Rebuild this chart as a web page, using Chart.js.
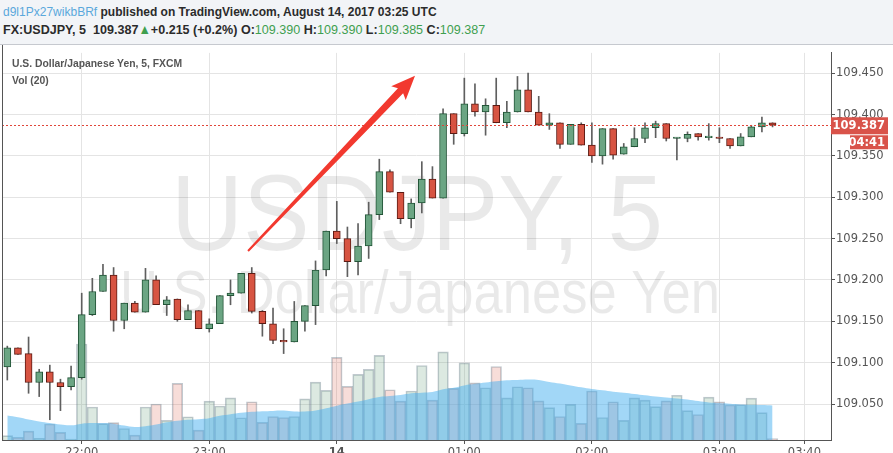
<!DOCTYPE html>
<html>
<head>
<meta charset="utf-8">
<script src="https://cdn.jsdelivr.net/npm/chart.js@4.4.1/dist/chart.umd.min.js"></script>
<style>
  html, body { margin: 0; padding: 0; }
  body { width: 893px; height: 453px; overflow: hidden; position: relative; background: #fff; font-family: "Liberation Sans", Arial, sans-serif; }
  #hdr { position: absolute; left: 0; top: 0; width: 893px; height: 44px; background: #f2f4f7; border-bottom: 1px solid #c6c9cf; }
  .ln { position: absolute; left: 3px; white-space: nowrap; font-weight: bold; font-size: 13.5px; color: #2b2b2b; transform-origin: 0 0; }
  .g { color: #3f9f4f; font-weight: normal; }
  #legend { position: absolute; left: 12px; top: 55px; font-size: 11.5px; font-weight: bold; color: #555; line-height: 17px; transform: scaleX(0.9); transform-origin: 0 0; white-space: nowrap; }
  #frame { position: absolute; left: 2px; top: 45px; width: 1px; height: 395px; background: #555; }
  #wrap { position: absolute; left: 0; top: 45px; width: 893px; height: 418px; }
</style>
</head>
<body>
<div id="hdr">
  <div class="ln" id="l1" style="top:4px"><span style="color:#5aa8dc;font-weight:normal">d9l1Px27wikbBRf</span> published on TradingView.com, August 14, 2017 03:25 UTC</div>
  <div class="ln" id="l2" style="top:22px">FX:USDJPY, 5&nbsp; <span id="last"></span><span class="g">▲</span><span id="chg"></span> O:<span class="g" id="vo"></span> H:<span class="g" id="vh"></span> L:<span class="g" id="vl"></span> C:<span class="g" id="vc"></span></div>
</div>
<div id="wrap"><canvas id="chart" width="893" height="418"></canvas></div>
<div id="frame"></div>
<div id="legend">U.S. Dollar/Japanese Yen, 5, FXCM<br>Vol (20)</div>
<script>
// 5-minute bars, 21:25 .. 03:25 (axis runs on to 03:50)
const times = ('21:25 21:30 21:35 21:40 21:45 21:50 21:55 ' +
  '22:00 22:05 22:10 22:15 22:20 22:25 22:30 22:35 22:40 22:45 22:50 22:55 ' +
  '23:00 23:05 23:10 23:15 23:20 23:25 23:30 23:35 23:40 23:45 23:50 23:55 ' +
  '00:00 00:05 00:10 00:15 00:20 00:25 00:30 00:35 00:40 00:45 00:50 00:55 ' +
  '01:00 01:05 01:10 01:15 01:20 01:25 01:30 01:35 01:40 01:45 01:50 01:55 ' +
  '02:00 02:05 02:10 02:15 02:20 02:25 02:30 02:35 02:40 02:45 02:50 02:55 ' +
  '03:00 03:05 03:10 03:15 03:20 03:25 03:30 03:35 03:40 03:45 03:50').split(' ');

const opens = [109.095, 109.118, 109.111, 109.076, 109.089, 109.076, 109.071, 109.082, 109.158, 109.186,
  109.206, 109.151, 109.172, 109.161, 109.200, 109.170, 109.177, 109.152, 109.163, 109.141,
  109.147, 109.181, 109.184, 109.208, 109.162, 109.147, 109.127, 109.125, 109.150, 109.169,
  109.212, 109.259, 109.250, 109.222, 109.241, 109.279, 109.331, 109.306, 109.274, 109.293,
  109.322, 109.299, 109.401, 109.377, 109.413, 109.403, 109.411, 109.390, 109.403, 109.430,
  109.403, 109.387, 109.390, 109.364, 109.388, 109.363, 109.350, 109.383, 109.352, 109.361,
  109.371, 109.384, 109.389, 109.371, 109.371, 109.377, 109.372, 109.372, 109.371, 109.362,
  109.373, 109.385, 109.390];
const highs = [109.120, 109.118, 109.131, 109.092, 109.097, 109.080, 109.096, 109.184, 109.202, 109.219,
  109.215, 109.172, 109.174, 109.214, 109.205, 109.180, 109.177, 109.170, 109.163, 109.153,
  109.181, 109.200, 109.208, 109.215, 109.163, 109.166, 109.141, 109.174, 109.169, 109.223,
  109.259, 109.295, 109.264, 109.268, 109.294, 109.346, 109.333, 109.306, 109.298, 109.343,
  109.337, 109.407, 109.401, 109.444, 109.437, 109.419, 109.444, 109.416, 109.446, 109.450,
  109.422, 109.401, 109.390, 109.388, 109.390, 109.390, 109.383, 109.383, 109.365, 109.384,
  109.390, 109.392, 109.389, 109.372, 109.379, 109.377, 109.389, 109.384, 109.371, 109.377,
  109.387, 109.397, 109.390];
const lows = [109.079, 109.110, 109.063, 109.059, 109.031, 109.042, 109.067, 109.080, 109.157, 109.186,
  109.138, 109.141, 109.161, 109.161, 109.170, 109.157, 109.150, 109.152, 109.141, 109.137,
  109.147, 109.170, 109.184, 109.160, 109.132, 109.123, 109.111, 109.125, 109.138, 109.146,
  109.205, 109.244, 109.204, 109.206, 109.226, 109.273, 109.306, 109.268, 109.263, 109.281,
  109.299, 109.299, 109.364, 109.374, 109.398, 109.375, 109.390, 109.384, 109.403, 109.403,
  109.387, 109.382, 109.359, 109.364, 109.363, 109.342, 109.340, 109.346, 109.352, 109.361,
  109.366, 109.372, 109.368, 109.345, 109.367, 109.369, 109.369, 109.366, 109.359, 109.362,
  109.373, 109.379, 109.385];
const closes = [109.118, 109.110, 109.076, 109.089, 109.076, 109.071, 109.082, 109.158, 109.186, 109.206,
  109.151, 109.172, 109.161, 109.200, 109.170, 109.176, 109.152, 109.163, 109.141, 109.147,
  109.181, 109.184, 109.208, 109.162, 109.147, 109.127, 109.125, 109.150, 109.169, 109.212,
  109.259, 109.250, 109.222, 109.241, 109.279, 109.331, 109.306, 109.274, 109.293, 109.322,
  109.299, 109.401, 109.377, 109.413, 109.403, 109.411, 109.390, 109.403, 109.430, 109.403,
  109.387, 109.390, 109.364, 109.388, 109.363, 109.350, 109.383, 109.351, 109.361, 109.371,
  109.384, 109.389, 109.371, 109.371, 109.376, 109.373, 109.372, 109.371, 109.362, 109.373,
  109.385, 109.390, 109.387];

const volumes = [44, 27, 90, 17, 163, 77, 10, 980, 337, 167,
  177, 117, 50, 337, 367, 200, 577, 237, 100, 397,
  347, 430, 227, 390, 180, 240, 230, 240, 420, 590,
  507, 843, 547, 670, 720, 863, 513, 397, 500, 760,
  407, 900, 527, 787, 583, 533, 750, 430, 543, 533,
  400, 330, 240, 363, 170, 500, 230, 390, 200, 430,
  407, 340, 400, 457, 300, 260, 437, 390, 357, 360,
  427, 280, 15];
// Vol (20) moving average
const volumeMA = [250, 233, 210, 190, 173, 157, 150, 167, 173, 173,
  167, 147, 133, 140, 157, 180, 197, 207, 213, 223,
  247, 263, 277, 287, 293, 297, 300, 290, 290, 300,
  323, 350, 373, 393, 417, 440, 450, 460, 477, 483,
  490, 517, 533, 557, 573, 587, 600, 610, 613, 617,
  613, 593, 577, 557, 537, 520, 507, 493, 483, 470,
  457, 443, 433, 423, 413, 397, 383, 377, 370, 363,
  360, 357, 353];

const priceTicks = [109.05, 109.10, 109.15, 109.20, 109.25, 109.30, 109.35, 109.40, 109.45];
const tickTimes = ['22:00', '23:00', '00:00', '01:00', '02:00', '03:00', '03:40'];
const tickNames = ['22:00', '23:00', '14', '01:00', '02:00', '03:00', '03:40'];
const watermark = ['USDJPY, 5', 'U.S. Dollar/Japanese Yen'];
const countdown = '04:41';
const dayChange = '+0.215 (+0.2%)';
// hand-drawn arrow, in (bar index, price)
const arrowFrom = [22.65, 109.235];
const arrowTo = [38.36, 109.447];

const UP = '#6ba583', DOWN = '#d75442', UP_EDGE = '#225437', DOWN_EDGE = '#5b1a13';
const n = closes.length;
const last = n - 1;
const isUp = i => closes[i] >= opens[i];

document.getElementById('last').textContent = closes[last].toFixed(3);
document.getElementById('chg').textContent = dayChange;
document.getElementById('vo').textContent = opens[last].toFixed(3);
document.getElementById('vh').textContent = highs[last].toFixed(3);
document.getElementById('vl').textContent = lows[last].toFixed(3);
document.getElementById('vc').textContent = closes[last].toFixed(3);
document.getElementById('l1').style.transform = 'scaleX(0.89)';
document.getElementById('l2').style.transform = 'scaleX(0.93)';

function stretchedText(ctx, text, font, cx, baseY, width) {
    ctx.font = font;
    const w = ctx.measureText(text).width;
    ctx.save();
    ctx.translate(cx, baseY);
    ctx.scale(width / w, 1);
    ctx.textAlign = 'center';
    ctx.textBaseline = 'alphabetic';
    ctx.fillText(text, 0, 0);
    ctx.restore();
}

const overlay = {
    id: 'overlay',
    beforeDatasetsDraw(chart) {
        const ctx = chart.ctx, a = chart.chartArea;
        ctx.save();
        ctx.beginPath();
        ctx.rect(a.left, a.top, a.width, a.height);
        ctx.clip();
        ctx.fillStyle = 'rgba(0,0,0,0.085)';
        stretchedText(ctx, watermark[0], '108px "Liberation Sans"', 417, 205, 492);
        stretchedText(ctx, watermark[1], '62px "Liberation Sans"', 420, 268, 600);
        ctx.restore();
    },
    afterDatasetsDraw(chart) {
        const ctx = chart.ctx, a = chart.chartArea;
        const xs = chart.scales.x, ys = chart.scales.y;
        // last price line
        const py = Math.round(ys.getPixelForValue(closes[last])) + 0.5;
        ctx.save();
        ctx.strokeStyle = '#e0463a';
        ctx.lineWidth = 1;
        ctx.setLineDash([2, 2]);
        ctx.beginPath();
        ctx.moveTo(a.left, py);
        ctx.lineTo(a.right, py);
        ctx.stroke();
        ctx.restore();

        // arrow
        const x0 = xs.getPixelForValue(arrowFrom[0]), y0 = ys.getPixelForValue(arrowFrom[1]);
        const x1 = xs.getPixelForValue(arrowTo[0]), y1 = ys.getPixelForValue(arrowTo[1]);
        const ang = Math.atan2(y1 - y0, x1 - x0);
        const len = Math.hypot(x1 - x0, y1 - y0);
        const headL = 24, headW = 10;
        ctx.save();
        ctx.translate(x0, y0);
        ctx.rotate(ang);
        ctx.fillStyle = '#f2392f';
        ctx.beginPath();
        ctx.moveTo(0, -1);
        ctx.lineTo(len - headL + 3, -3.6);
        ctx.lineTo(len - headL, -headW);
        ctx.lineTo(len, 0);
        ctx.lineTo(len - headL, headW);
        ctx.lineTo(len - headL + 3, 3.6);
        ctx.lineTo(0, 1);
        ctx.closePath();
        ctx.fill();
        ctx.restore();
    },
    afterDraw(chart) {
        const ctx = chart.ctx, a = chart.chartArea, ys = chart.scales.y;
        const py = ys.getPixelForValue(closes[last]);
        ctx.save();
        ctx.fillStyle = '#d9534a';
        ctx.fillRect(a.right, py - 8, 57, 17);
        ctx.fillRect(a.right + 19, py + 10, 38, 14);
        ctx.fillStyle = '#fff';
        ctx.font = 'bold 11.5px "DejaVu Sans"';
        ctx.textAlign = 'right';
        ctx.textBaseline = 'middle';
        ctx.fillText(closes[last].toFixed(3), a.right + 54, py + 0.5);
        ctx.fillText(countdown, a.right + 54, py + 17.5);
        ctx.restore();
    }
};

const axisFont = { family: 'DejaVu Sans', size: 11.5 };

new Chart(document.getElementById('chart'), {
    type: 'bar',
    data: {
        labels: times,
        datasets: [
            {
                label: 'Body',
                data: opens.map((o, i) => [o, closes[i]]),
                yAxisID: 'y',
                grouped: false,
                order: 1,
                barThickness: 7,
                minBarLength: 1.5,
                borderWidth: 1,
                borderSkipped: false,
                backgroundColor: c => isUp(c.dataIndex) ? UP : DOWN,
                borderColor: c => isUp(c.dataIndex) ? UP_EDGE : DOWN_EDGE
            },
            {
                label: 'Wick',
                data: lows.map((l, i) => [l, highs[i]]),
                yAxisID: 'y',
                grouped: false,
                order: 2,
                barThickness: 1,
                borderWidth: 0,
                backgroundColor: '#5f5f5f'
            },
            {
                type: 'line',
                label: 'Vol MA',
                data: volumeMA,
                yAxisID: 'yv',
                order: 3,
                fill: 'origin',
                tension: 0.4,
                pointRadius: 0,
                borderWidth: 0,
                borderColor: 'rgba(70,175,240,0.5)',
                backgroundColor: 'rgba(70,175,240,0.5)'
            },
            {
                label: 'Volume',
                data: volumes,
                yAxisID: 'yv',
                grouped: false,
                order: 4,
                barPercentage: 1,
                categoryPercentage: 1,
                borderWidth: 1,
                backgroundColor: c => isUp(c.dataIndex) ? 'rgba(107,165,131,0.24)' : 'rgba(215,84,66,0.2)',
                borderColor: 'rgba(100,120,135,0.4)'
            }
        ]
    },
    options: {
        responsive: false,
        animation: false,
        layout: { padding: { left: 2, right: 0, top: 0, bottom: 0 } },
        plugins: {
            legend: { display: false },
            tooltip: { enabled: false }
        },
        scales: {
            x: {
                type: 'category',
                offset: true,
                grid: { offset: false, color: '#e4e4e4', drawTicks: true, tickLength: 4, tickColor: '#555' },
                border: { color: '#555' },
                ticks: {
                    autoSkip: false,
                    maxRotation: 0,
                    padding: 2,
                    color: '#555',
                    font: c => ({ family: 'DejaVu Sans', size: 11.5, weight: c.tick && c.tick.label === '14' ? 'bold' : 'normal' }),
                    callback: value => tickNames[tickTimes.indexOf(times[value])]
                },
                afterBuildTicks: scale => {
                    scale.ticks = tickTimes.map(t => ({ value: times.indexOf(t) }));
                },
                afterFit: scale => { scale.height = 23; }
            },
            y: {
                position: 'right',
                min: 109.0065,
                max: 109.4745,
                grid: { color: '#e4e4e4', drawTicks: true, tickLength: 4, tickColor: '#555' },
                border: { color: '#555' },
                ticks: {
                    padding: 1,
                    color: '#555',
                    font: axisFont,
                    callback: v => v.toFixed(3)
                },
                afterBuildTicks: scale => {
                    scale.ticks = priceTicks.map(v => ({ value: v }));
                },
                afterFit: scale => { scale.width = 62; }
            },
            yv: {
                display: false,
                min: 0,
                max: 3950
            }
        }
    },
    plugins: [overlay]
});
</script>
</body>
</html>
